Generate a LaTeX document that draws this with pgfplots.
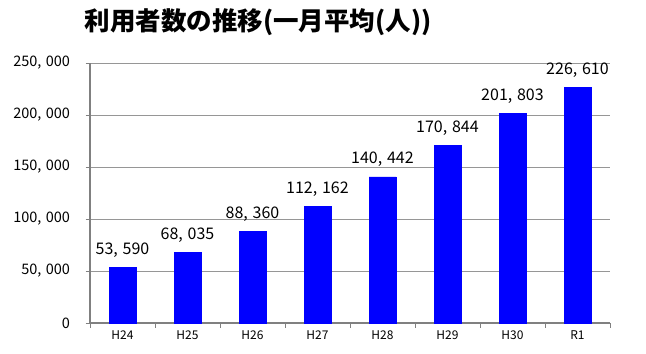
\documentclass[border=0pt]{standalone}
\usepackage{pgfplots}
\pgfplotsset{compat=1.18}
\usepackage{fontspec}
\setmainfont{Noto Sans CJK JP}
\newfontfamily\titlefont{Noto Sans CJK JP}[BoldFont={Noto Sans CJK JP Black}]
\definecolor{barblue}{RGB}{0,0,255}
\definecolor{gridgray}{RGB}{150,150,150}
\definecolor{axisgray}{RGB}{128,128,128}
\newcommand{\sep}{,\hspace{0.3em}}
\begin{document}
\begin{tikzpicture}
\path[use as bounding box] (0,0) rectangle (646bp,354bp);
\node[font={\titlefont\bfseries\fontsize{25.5bp}{29bp}\selectfont}] at (258bp,332bp) {利用者数の推移(一月平均(人))};
\begin{axis}[
  at={(90bp,31bp)}, anchor=south west,
  scale only axis, width=520bp, height=260bp,
  xmin=-0.5, xmax=7.5, ymin=0, ymax=250000,
  axis lines=left,
  axis line style={-, draw=axisgray, line width=1.2bp},
  ytick={0,50000,100000,150000,200000,250000},
  yticklabels={0,50\sep000,100\sep000,150\sep000,200\sep000,250\sep000},
  scaled y ticks=false,
  ymajorgrids, grid style={gridgray, line width=0.9bp},
  tick align=outside,
  major tick length=4.5bp,
  ytick style={draw=axisgray, line width=0.9bp},
  xtick={-0.5,0.5,...,7.5},
  xticklabels={},
  xtick style={draw=axisgray, line width=0.9bp},
  extra x ticks={0,1,2,3,4,5,6,7},
  extra x tick labels={H24,H25,H26,H27,H28,H29,H30,R1},
  extra x tick style={major tick length=0pt, xticklabel style={yshift=-4bp}},
  xticklabel style={font=\fontsize{12bp}{14bp}\selectfont},
  yticklabel style={font=\fontsize{14.5bp}{17bp}\selectfont, xshift=-12bp},
  ybar, bar width=27bp,
  point meta=explicit symbolic,
  nodes near coords,
  every node near coord/.append style={font=\fontsize{16bp}{18bp}\selectfont, anchor=base, inner sep=0pt, yshift=13bp},
  clip=false,
]
\addplot[fill=barblue, draw=barblue, bar shift=0pt] coordinates {
 (0,53590) [53\sep590]
 (1,68035) [68\sep035]
 (2,88360) [88\sep360]
 (3,112162) [112\sep162]
 (4,140442) [140\sep442]
 (5,170844) [170\sep844]
 (6,201803) [201\sep803]
 (7,226610) [226\sep610]
};
\end{axis}
\end{tikzpicture}
\end{document}
